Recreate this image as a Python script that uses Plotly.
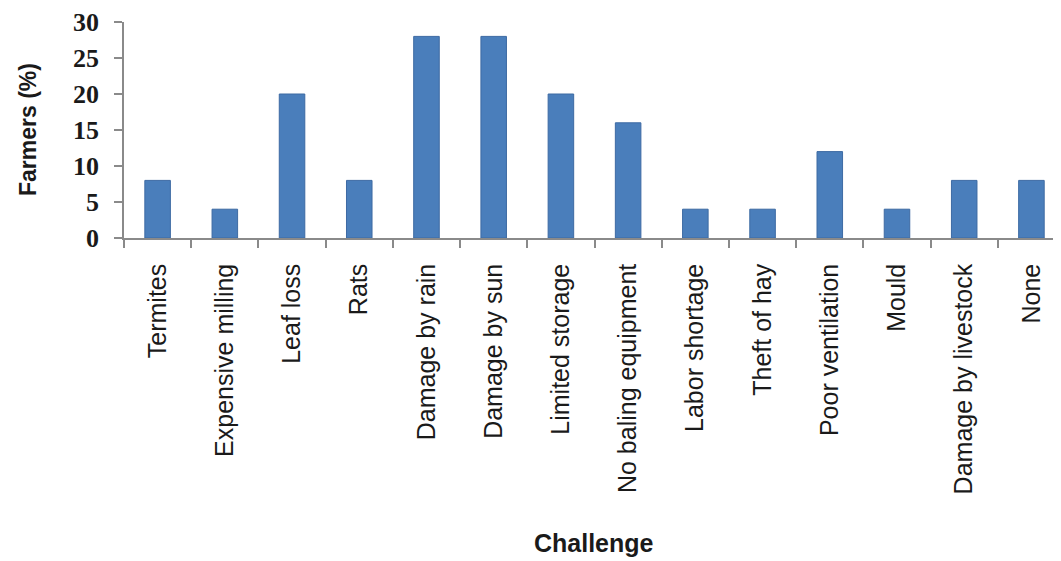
import plotly.graph_objects as go

categories = ["Termites", "Expensive milling", "Leaf loss", "Rats", "Damage by rain",
              "Damage by sun", "Limited storage", "No baling equipment", "Labor shortage",
              "Theft of hay", "Poor ventilation", "Mould", "Damage by livestock", "None"]
farmers_pct = [8, 4, 20, 8, 28, 28, 20, 16, 4, 4, 12, 4, 8, 8]
y_ticks = [0, 5, 10, 15, 20, 25, 30]

fig = go.Figure(go.Bar(
    x=categories, y=farmers_pct,
    marker=dict(color="#4a7ebb", line=dict(color="#3d6aa3", width=1)),
))

fig.update_layout(
    width=1053, height=553,
    margin=dict(l=116, r=0, t=12, b=323),
    plot_bgcolor="white", paper_bgcolor="white",
    bargap=0.62, showlegend=False,
    xaxis=dict(
        range=[-0.5, 13.44],
        showline=True, linecolor="#8a8a8a", linewidth=1.5,
        ticks="outside", tickson="boundaries", ticklen=8, tickcolor="#8a8a8a", tickwidth=1.5,
        tickangle=-90, ticklabelstandoff=14,
        tickfont=dict(family="Liberation Sans, Arial", size=25, color="#1a1a1a"),
        showgrid=False,
    ),
    yaxis=dict(
        range=[0, 30], tickvals=y_ticks,
        showline=True, linecolor="#8a8a8a", linewidth=1.5,
        ticks="outside", ticklen=8, tickcolor="#8a8a8a", tickwidth=1.5,
        ticklabelstandoff=10, ticklabeloverflow="allow",
        tickfont=dict(family="Liberation Serif, Times New Roman", size=26, color="#1a1a1a",
                      weight="bold"),
        showgrid=False, zeroline=False,
    ),
    annotations=[
        dict(text="<b>Farmers (%)</b>", textangle=-90, xref="paper", yref="paper",
             x=(28 - 124) / 937, y=0.5, xanchor="center", yanchor="middle", showarrow=False,
             font=dict(family="Liberation Sans, Arial", size=23, color="#1a1a1a")),
        dict(text="<b>Challenge</b>", xref="paper", yref="paper",
             x=(594 - 124) / 937, y=-(546 - 238) / 218, xanchor="center", yanchor="middle",
             showarrow=False,
             font=dict(family="Liberation Sans, Arial", size=25, color="#1a1a1a")),
    ],
)

fig.write_html("out.html")
